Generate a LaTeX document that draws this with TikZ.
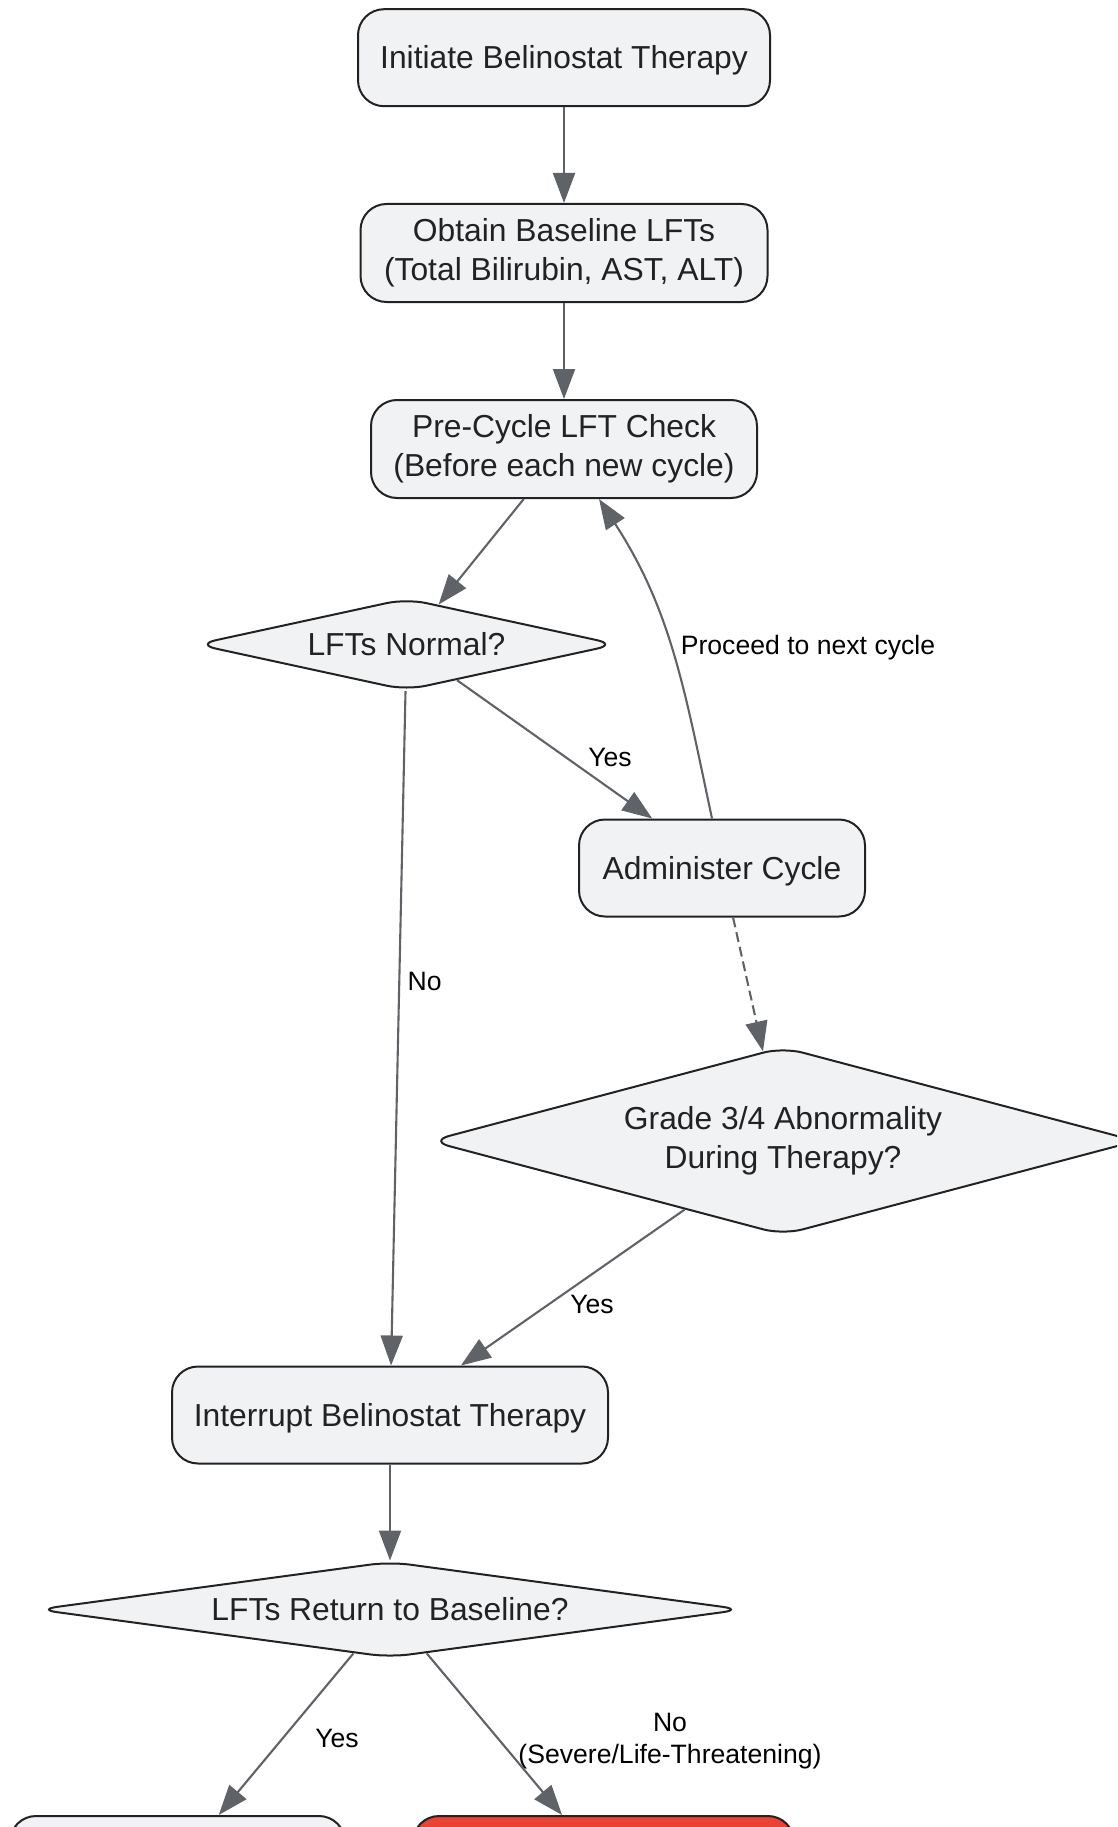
\documentclass[tikz,border=0pt]{standalone}
\usepackage{fontspec}
\setmainfont{Liberation Sans}
\usetikzlibrary{arrows.meta,shapes.geometric}
\definecolor{nodefill}{HTML}{F1F2F4}
\definecolor{nodeline}{HTML}{222222}
\definecolor{edgecol}{HTML}{5F6368}
\definecolor{redfill}{HTML}{EA4335}
\definecolor{txt}{HTML}{222222}
\newcommand\ndfont{\fontsize{31.8pt}{38.4pt}\selectfont}
\newcommand\lbfont{\fontsize{26.6pt}{31.4pt}\selectfont}
\newcommand\lnstrut{\rule[-0.212em]{0pt}{1.117em}}
\tikzset{
  box/.style={rectangle, rounded corners=26pt, draw=nodeline, line width=2pt, fill=nodefill, text=txt, font=\ndfont, align=center, inner sep=0pt,
    execute at begin node=\lnstrut, execute at end node=\lnstrut},
  dia/.style={diamond, rounded corners=20pt, draw=nodeline, line width=2pt, fill=nodefill, text=txt, font=\ndfont, align=center, inner sep=0pt,
    execute at begin node=\lnstrut, execute at end node=\lnstrut},
  arr/.style={draw=edgecol, line width=2.1pt, -{Triangle[length=30pt,width=22pt]}},
  dasharr/.style={arr, dash pattern=on 10pt off 5pt},
  lbl/.style={font=\lbfont, text=black, align=center, inner sep=0pt}
}
\begin{document}
\begin{tikzpicture}[x=1pt,y=1pt]
\useasboundingbox (0,0) rectangle (1117,-1827);
\clip (0,0) rectangle (1117,-1827);

\node[box, minimum width=412pt, minimum height=97pt] (init) at (564,-57.7) {Initiate Belinostat Therapy};
\node[box, minimum width=407pt, minimum height=98pt] (base) at (564,-253) {Obtain Baseline LFTs\\(Total Bilirubin, AST, ALT)};
\node[box, minimum width=386pt, minimum height=98pt] (pre) at (564,-449) {Pre-Cycle LFT Check\\(Before each new cycle)};
\node[dia, minimum width=421pt, minimum height=92pt, shape aspect=4.55] (lfn) at (406.5,-644.4) {LFTs Normal?};
\node[box, minimum width=286pt, minimum height=97pt] (adm) at (722,-868) {Administer Cycle};
\node[dia, minimum width=707pt, minimum height=188pt, shape aspect=3.73] (g34) at (783,-1141) {Grade 3/4 Abnormality\\During Therapy?};
\node[box, minimum width=436pt, minimum height=97pt] (intr) at (390,-1415) {Interrupt Belinostat Therapy};
\node[dia, minimum width=706pt, minimum height=96pt, shape aspect=7.45] (ret) at (390,-1609.5) {LFTs Return to Baseline?};
\node[box, minimum width=335pt, minimum height=97pt] (res) at (177.5,-1864.5) {};
\node[box, fill=redfill, minimum width=381pt, minimum height=97pt] (disc) at (603.5,-1864.5) {};

\draw[arr] (init) -- (base);
\draw[arr] (base) -- (pre);
\draw[arr] (pre) -- (lfn);
\draw[arr] (lfn) -- (adm);
\draw[arr] ([xshift=-10pt]adm.north) to[out=102,in=-57] ([xshift=35pt]pre.south);
\draw[dasharr] (adm) -- (g34);
\draw[arr] (g34) -- (intr);
\draw[arr] (lfn) -- (intr);
\draw[arr] (intr) -- (ret);
\draw[arr] (ret) -- (res);
\draw[arr] (ret) -- (disc);

\node[lbl] (l1) at (610,-757) {Yes};
\node[lbl] (l2) at (808,-647.5) {Proceed to next cycle};
\node[lbl] (l3) at (424.6,-981) {No};
\node[lbl] (l4) at (592,-1304) {Yes};
\node[lbl] (l5) at (337,-1738) {Yes};
\node[lbl] (l6) at (670,-1741) {No\\(Severe/Life-Threatening)};
\end{tikzpicture}
\end{document}
